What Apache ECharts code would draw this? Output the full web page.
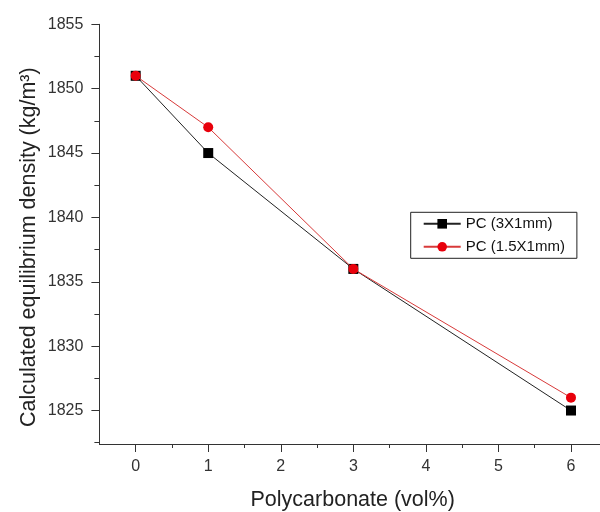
<!DOCTYPE html>
<html>
<head>
<meta charset="utf-8">
<script src="https://cdn.jsdelivr.net/npm/echarts@6/dist/echarts.min.js"></script>
<style>
html,body{margin:0;padding:0;background:#fff;}
#chart{width:600px;height:512px;}
</style>
</head>
<body>
<div id="chart"></div>
<script>
// polycarbonate content (vol%)
var volPercent = [0, 1, 3, 6];
// calculated equilibrium density, kg/m3
var pc3x1 = [1851, 1845, 1836, 1825];
var pc15x1 = [1851, 1847, 1836, 1826];
var seriesNames = ['PC (3X1mm)', 'PC (1.5X1mm)'];

var xMajorTicks = [0, 1, 2, 3, 4, 5, 6];
var xMinorTicks = [0.5, 1.5, 2.5, 3.5, 4.5, 5.5];
var yMajorTicks = [1825, 1830, 1835, 1840, 1845, 1850, 1855];
var yMinorTicks = [1822.5, 1827.5, 1832.5, 1837.5, 1842.5, 1847.5, 1852.5];

var X_MIN = -0.5, X_MAX = 6.4, Y_MIN = 1822.4, Y_MAX = 1855;
var AXIS_COLOR = '#333';
var FONT = 'Liberation Sans';

function pairs(xs, ys){
    var out = [];
    for (var i = 0; i < xs.length; i++) out.push([xs[i], ys[i]]);
    return out;
}

var gridPos = {left: 99.4, right: 0, top: 24.3, bottom: 68, outerBoundsMode: 'none'};

var option = {
    animation: false,
    backgroundColor: '#fff',
    grid: [
        Object.assign({}, gridPos),
        Object.assign({}, gridPos)
    ],
    legend: {
        orient: 'vertical',
        left: 410.7,
        top: 212.3,
        padding: [4, 12, 4, 12],
        itemGap: 8,
        itemWidth: 37,
        itemHeight: 12,
        borderColor: '#222',
        borderWidth: 1,
        backgroundColor: '#fff',
        textStyle: {fontFamily: FONT, fontSize: 15, color: '#111'},
        data: seriesNames
    },
    xAxis: [{
        type: 'value',
        gridIndex: 0,
        min: X_MIN,
        max: X_MAX,
        name: 'Polycarbonate (vol%)',
        nameLocation: 'middle',
        nameGap: 45,
        nameMoveOverlap: false,
        nameTextStyle: {fontFamily: FONT, fontSize: 21.5, color: '#222', padding: [0, 0, 0, 6]},
        axisLine: {onZero: false, lineStyle: {color: AXIS_COLOR, width: 1}},
        axisTick: {show: true, length: 8, customValues: xMajorTicks, lineStyle: {color: AXIS_COLOR}},
        axisLabel: {customValues: xMajorTicks, margin: 15, fontFamily: FONT, fontSize: 16, color: '#333'},
        splitLine: {show: false}
    }, {
        type: 'value',
        gridIndex: 1,
        min: X_MIN,
        max: X_MAX,
        axisLine: {show: false, onZero: false},
        axisTick: {show: true, length: 4, customValues: xMinorTicks, lineStyle: {color: AXIS_COLOR}},
        axisLabel: {show: false},
        splitLine: {show: false}
    }],
    yAxis: [{
        type: 'value',
        gridIndex: 0,
        min: Y_MIN,
        max: Y_MAX,
        name: 'Calculated equilibrium density (kg/m³)',
        nameLocation: 'middle',
        nameGap: 59,
        nameMoveOverlap: false,
        nameTextStyle: {fontFamily: FONT, fontSize: 21.5, color: '#222', padding: [0, 26, 0, 0]},
        axisLine: {show: true, onZero: false, lineStyle: {color: AXIS_COLOR, width: 1}},
        axisTick: {show: true, length: 8, customValues: yMajorTicks, lineStyle: {color: AXIS_COLOR}},
        axisLabel: {
            customValues: yMajorTicks, margin: 16, fontFamily: FONT, fontSize: 16, color: '#333',
            formatter: function (v) { return String(v); }
        },
        splitLine: {show: false}
    }, {
        type: 'value',
        gridIndex: 1,
        min: Y_MIN,
        max: Y_MAX,
        axisLine: {show: false, onZero: false},
        axisTick: {show: true, length: 5, customValues: yMinorTicks, lineStyle: {color: AXIS_COLOR}},
        axisLabel: {show: false},
        splitLine: {show: false}
    }],
    series: [{
        name: seriesNames[0],
        type: 'line',
        xAxisIndex: 0,
        yAxisIndex: 0,
        data: pairs(volPercent, pc3x1),
        symbol: 'rect',
        symbolSize: 10,
        color: '#000',
        lineStyle: {color: '#222', width: 1},
        itemStyle: {color: '#000'},
        z: 2
    }, {
        name: seriesNames[1],
        type: 'line',
        xAxisIndex: 0,
        yAxisIndex: 0,
        data: pairs(volPercent, pc15x1),
        symbol: 'circle',
        symbolSize: 10,
        color: '#e8000b',
        lineStyle: {color: '#d83a3a', width: 1},
        itemStyle: {color: '#e8000b'},
        z: 3
    }]
};

var myChart = echarts.init(document.getElementById('chart'));
myChart.setOption(option);
</script>
</body>
</html>
